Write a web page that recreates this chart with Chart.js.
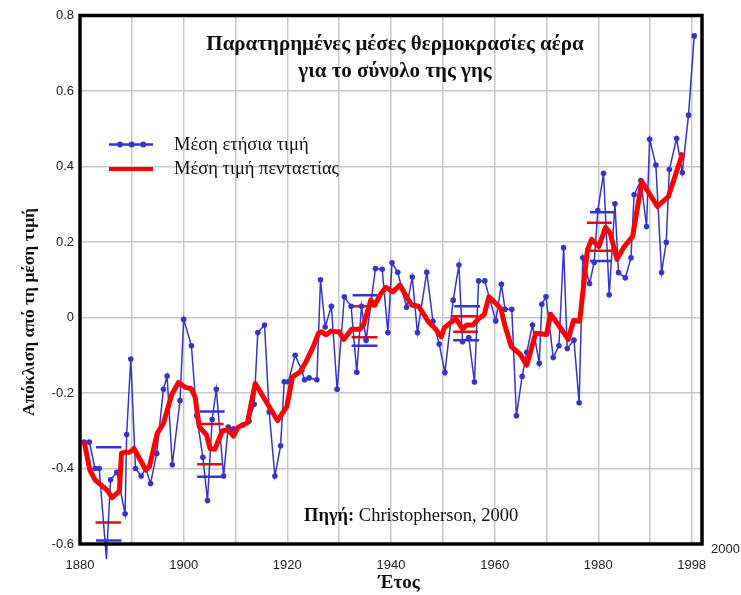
<!DOCTYPE html>
<html>
<head>
<meta charset="utf-8">
<script src="https://cdn.jsdelivr.net/npm/chart.js@4/dist/chart.umd.min.js"></script>
<style>
  html, body { margin: 0; padding: 0; background: #ffffff; }
  canvas { display: block; }
</style>
</head>
<body>
<canvas id="chart" width="741" height="595"></canvas>
<script>
// Annual global mean air temperature anomaly (°C from the long-term mean)
const annualYears = [
  1880.8, 1881.8, 1882.9, 1883.7, 1885.1, 1885.9, 1887.1, 1888.7, 1889.0, 1889.8,
  1890.7, 1891.8, 1892.7, 1893.6, 1894.8, 1896.1, 1896.8, 1897.8, 1899.3, 1900.0,
  1901.5, 1902.5, 1903.7, 1904.6, 1905.5, 1906.3, 1907.7, 1908.6, 1909.6, 1911.4,
  1912.6, 1913.6, 1914.3, 1915.6, 1916.5, 1917.6, 1918.7, 1919.4, 1920.2, 1921.5,
  1922.8, 1923.3, 1924.2, 1925.7, 1926.4, 1927.3, 1928.5, 1929.6, 1931.0, 1932.3,
  1933.4, 1934.3, 1935.2, 1937.0, 1938.3, 1939.4, 1940.2, 1941.3, 1943.0, 1944.1,
  1945.1, 1946.9, 1948.1, 1949.3, 1950.4, 1952.0, 1953.1, 1953.8, 1955.0, 1956.1,
  1956.9, 1958.1, 1960.2, 1961.3, 1962.0, 1963.3, 1964.2, 1965.3, 1966.2, 1967.3,
  1968.6, 1969.1, 1969.9, 1971.3, 1972.4, 1973.3, 1974.0, 1975.3, 1976.3, 1977.0,
  1978.3, 1979.2, 1979.9, 1981.0, 1982.1, 1983.2, 1983.9, 1985.2, 1986.3, 1986.9,
  1988.2, 1989.3, 1989.9, 1991.1, 1992.2, 1993.1, 1993.7, 1995.1, 1996.2, 1997.4,
  1998.5
];
const annualValues = [
  -0.33, -0.33, -0.40, -0.40, -0.64, -0.43, -0.41, -0.52, -0.31, -0.11,
  -0.40, -0.42, -0.40, -0.44, -0.36, -0.19, -0.155, -0.39, -0.22, -0.005,
  -0.075, -0.26, -0.37, -0.485, -0.27, -0.19, -0.42, -0.29, -0.295, -0.285,
  -0.275, -0.23, -0.04, -0.02, -0.25, -0.42, -0.34, -0.17, -0.17, -0.10,
  -0.14, -0.165, -0.16, -0.165, 0.10, -0.025, 0.03, -0.19, 0.055, 0.03,
  -0.145, 0.03, -0.06, 0.13, 0.128, -0.04, 0.145, 0.12, 0.027, 0.107,
  -0.04, 0.12, -0.01, -0.07, -0.146, 0.046, 0.139, -0.064, -0.053, -0.171,
  0.097, 0.097, -0.009, 0.088, 0.022, 0.022, -0.26, -0.156, -0.092, -0.02,
  -0.121, 0.035, 0.055, -0.106, -0.075, 0.185, -0.082, -0.06, -0.226, 0.158,
  0.09, 0.146, 0.283, 0.382, 0.06, 0.301, 0.119, 0.105, 0.158, 0.325,
  0.363, 0.241, 0.472, 0.404, 0.119, 0.199, 0.392, 0.474, 0.384, 0.536,
  0.746
];

// Five-year running mean
const meanYears = [
  1880.8, 1881.9, 1882.9, 1883.9, 1885.2, 1886.2, 1887.6, 1888.0, 1888.5, 1889.6,
  1890.4, 1891.6, 1892.7, 1893.4, 1894.9, 1896.1, 1897.7, 1899.0, 1900.3, 1901.4,
  1902.2, 1903.0, 1904.4, 1905.1, 1906.0, 1907.5, 1908.6, 1909.6, 1910.5, 1912.3,
  1913.8, 1918.1, 1919.9, 1921.0, 1922.4, 1923.5, 1925.0, 1926.0, 1926.6, 1927.5,
  1928.4, 1929.2, 1930.0, 1930.9, 1932.4, 1934.0, 1934.7, 1936.1, 1936.9, 1937.9,
  1939.0, 1940.4, 1941.7, 1943.0, 1944.0, 1945.3, 1946.2, 1947.2, 1948.5, 1949.7,
  1950.3, 1951.4, 1952.5, 1953.8, 1954.6, 1955.8, 1956.8, 1958.0, 1958.9, 1961.2,
  1961.9, 1963.2, 1964.9, 1966.2, 1967.9, 1970.0, 1970.8, 1972.3, 1974.2, 1975.2,
  1976.4, 1977.9, 1978.7, 1980.1, 1981.4, 1982.3, 1983.6, 1985.0, 1986.6, 1988.4,
  1991.4, 1993.5, 1996.3
];
const meanValues = [
  -0.329, -0.404, -0.43, -0.442, -0.457, -0.477, -0.46, -0.36, -0.357, -0.357,
  -0.347, -0.377, -0.404, -0.395, -0.307, -0.28, -0.204, -0.172, -0.185, -0.188,
  -0.21, -0.289, -0.311, -0.347, -0.349, -0.30, -0.298, -0.314, -0.291, -0.279,
  -0.175, -0.273, -0.236, -0.157, -0.145, -0.12, -0.077, -0.042, -0.038, -0.046,
  -0.036, -0.038, -0.038, -0.058, -0.031, -0.031, -0.02, 0.046, 0.033, 0.06,
  0.08, 0.068, 0.086, 0.055, 0.033, 0.03, 0.011, -0.011, -0.029, -0.051,
  -0.027, -0.015, -0.003, -0.03, -0.02, -0.02, -0.004, 0.008, 0.055, 0.024,
  -0.018, -0.077, -0.097, -0.126, -0.042, -0.045, 0.009, -0.02, -0.058, -0.008,
  -0.01, 0.179, 0.207, 0.188, 0.239, 0.223, 0.154, 0.188, 0.214, 0.36,
  0.294, 0.32, 0.437
];

// Uncertainty bands drawn as short horizontal bars
const bandFrom   = [1883.1, 1883.0, 1883.1, 1903.1, 1903.1, 1902.6, 1902.6, 1932.6, 1932.4, 1932.4, 1932.4, 1952.2, 1951.7, 1952.0, 1952.0, 1978.4, 1977.8, 1977.8, 1978.4];
const bandTo     = [1888.0, 1887.9, 1888.0, 1907.9, 1907.7, 1907.4, 1908.1, 1937.4, 1937.0, 1937.4, 1937.4, 1957.2, 1956.8, 1956.8, 1957.0, 1983.4, 1982.6, 1982.6, 1982.6];
const bandValue  = [-0.344, -0.543, -0.591, -0.249, -0.282, -0.389, -0.422, 0.059, 0.03, -0.052, -0.075, 0.03, 0.003, -0.038, -0.06, 0.279, 0.251, 0.177, 0.15];
const bandSeries = ['annual', 'mean', 'annual', 'annual', 'mean', 'mean', 'annual', 'annual', 'mean', 'mean', 'annual', 'annual', 'mean', 'mean', 'annual', 'annual', 'mean', 'mean', 'annual'];

// Axes
const xGridYears  = [1880, 1890, 1900, 1910, 1920, 1930, 1940, 1950, 1960, 1970, 1980, 1990, 1998];
const xLabelYears = [1880, 1900, 1920, 1940, 1960, 1980, 1998];
const yTickValues = [-0.6, -0.4, -0.2, 0, 0.2, 0.4, 0.6, 0.8];
const yTickLabels = ['-0.6', '-0.4', '-0.2', '0', '0.2', '0.4', '0.6', '0.8'];

const titleLines   = ['Παρατηρημένες μέσες θερμοκρασίες αέρα', 'για το σύνολο της γης'];
const legendLabels = ['Μέση ετήσια τιμή', 'Μέση τιμή πενταετίας'];
const xTitle = 'Έτος';
const yTitle = 'Απόκλιση από τη μέση τιμή';
const sourceLabel = 'Πηγή:';
const sourceText = ' Christopherson, 2000';
const endYearLabel = '2000';

const BLUE = '#3535cc';
const RED = '#ff0000';
const SERIF = '"Liberation Serif", "Times New Roman", serif';
const SANS = '"Liberation Sans", Arial, sans-serif';

const toPoints = (xs, ys) => xs.map((x, i) => ({ x: x, y: ys[i] }));

const datasets = [
  {
    label: legendLabels[1],
    data: toPoints(meanYears, meanValues),
    borderColor: RED,
    backgroundColor: RED,
    borderWidth: 5,
    borderJoinStyle: 'round',
    pointRadius: 0,
    tension: 0,
    order: 0
  },
  {
    label: legendLabels[0],
    data: toPoints(annualYears, annualValues),
    borderColor: BLUE,
    backgroundColor: BLUE,
    borderWidth: 1.5,
    pointRadius: 2.8,
    pointBorderWidth: 0,
    pointBackgroundColor: BLUE,
    tension: 0,
    clip: false,
    order: 1
  }
];
bandValue.forEach((v, i) => {
  const c = bandSeries[i] === 'mean' ? RED : BLUE;
  datasets.push({
    label: 'band' + i,
    data: [{ x: bandFrom[i], y: v }, { x: bandTo[i], y: v }],
    borderColor: c,
    borderWidth: 2.5,
    pointRadius: 0,
    order: 2
  });
});

// Frame, titles, legend and source note
const decorations = {
  id: 'decorations',
  afterDraw(chart) {
    const ctx = chart.ctx;
    const a = chart.chartArea;
    ctx.save();

    ctx.strokeStyle = '#000';
    ctx.lineWidth = 3.5;
    ctx.strokeRect(a.left, a.top, a.right - a.left, a.bottom - a.top);

    ctx.fillStyle = '#111';
    ctx.textAlign = 'center';
    ctx.textBaseline = 'middle';
    ctx.font = 'bold 21px ' + SERIF;
    ctx.fillText(titleLines[0], 395, 45);
    ctx.fillText(titleLines[1], 395, 72);

    // legend
    ctx.strokeStyle = BLUE;
    ctx.lineWidth = 2.5;
    ctx.beginPath();
    ctx.moveTo(109, 144.5);
    ctx.lineTo(153, 144.5);
    ctx.stroke();
    ctx.fillStyle = BLUE;
    [120, 131.7, 143.3].forEach(px => {
      ctx.beginPath();
      ctx.arc(px, 144.5, 3, 0, Math.PI * 2);
      ctx.fill();
    });
    ctx.strokeStyle = RED;
    ctx.lineWidth = 4;
    ctx.beginPath();
    ctx.moveTo(109, 169);
    ctx.lineTo(153, 169);
    ctx.stroke();

    ctx.fillStyle = '#111';
    ctx.textAlign = 'left';
    ctx.font = '18.5px ' + SERIF;
    ctx.fillText(legendLabels[0], 174, 145);
    ctx.fillText(legendLabels[1], 174, 169.5);

    // source note
    ctx.font = 'bold 18.5px ' + SERIF;
    const w = ctx.measureText(sourceLabel).width;
    ctx.fillText(sourceLabel, 304, 516);
    ctx.font = '18.5px ' + SERIF;
    ctx.fillText(sourceText, 304 + w, 516);

    // axis titles
    ctx.textAlign = 'center';
    ctx.font = 'bold 19px ' + SERIF;
    ctx.fillText(xTitle, 399, 583);
    ctx.save();
    ctx.translate(29, 312);
    ctx.rotate(-Math.PI / 2);
    ctx.font = 'bold 17.5px ' + SERIF;
    ctx.fillText(yTitle, 0, 0);
    ctx.restore();

    ctx.font = '13px ' + SANS;
    ctx.fillStyle = '#222';
    ctx.textAlign = 'left';
    ctx.fillText(endYearLabel, 711, 549);

    ctx.restore();
  }
};

new Chart(document.getElementById('chart'), {
  type: 'line',
  data: { datasets: datasets },
  plugins: [decorations],
  options: {
    responsive: false,
    animation: false,
    devicePixelRatio: 1,
    layout: { padding: { left: 0, right: 39, top: 15.5, bottom: 0 } },
    plugins: {
      legend: { display: false },
      tooltip: { enabled: false }
    },
    scales: {
      x: {
        type: 'linear',
        min: 1880,
        max: 2000,
        afterFit(scale) { scale.height = 51; },
        afterBuildTicks(scale) { scale.ticks = xGridYears.map(v => ({ value: v })); },
        grid: { color: '#c8c8c8', lineWidth: 1.5, drawTicks: false },
        border: { display: false },
        ticks: {
          autoSkip: false,
          maxRotation: 0,
          padding: 14,
          color: '#222',
          font: { family: SANS, size: 13 },
          callback(v) { return xLabelYears.includes(v) ? String(v) : ''; }
        }
      },
      y: {
        min: -0.6,
        max: 0.8,
        afterFit(scale) { scale.width = 80; },
        afterBuildTicks(scale) { scale.ticks = yTickValues.map(v => ({ value: v })); },
        grid: { color: '#c8c8c8', lineWidth: 1.5, drawTicks: false },
        border: { display: false },
        ticks: {
          padding: 6,
          color: '#222',
          font: { family: SANS, size: 13 },
          callback(v, i) { return yTickLabels[i]; }
        }
      }
    }
  }
});
</script>
</body>
</html>
